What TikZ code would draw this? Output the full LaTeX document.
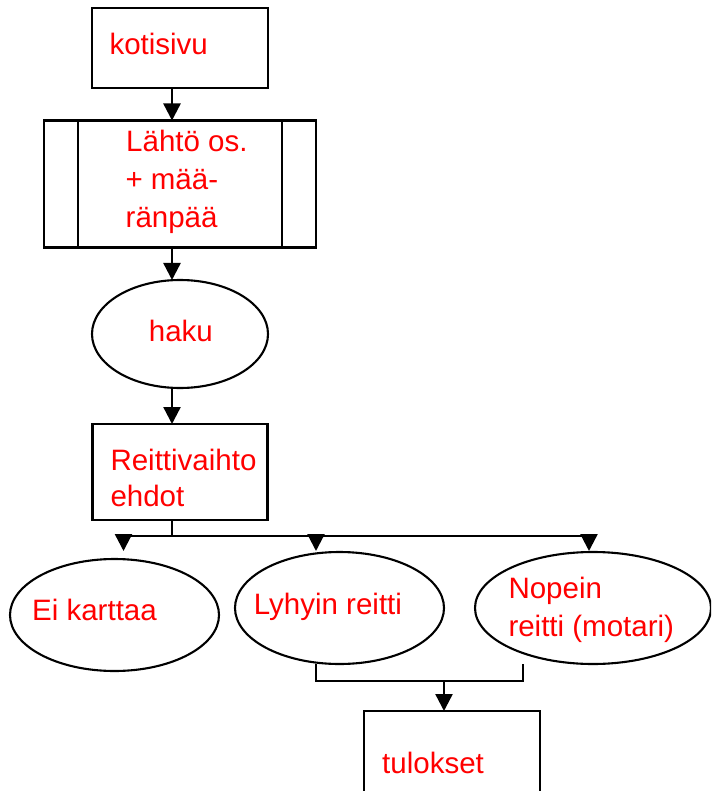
\documentclass[tikz,border=0pt]{standalone}
\usepackage{fontspec}
\setmainfont{Liberation Sans}
\usetikzlibrary{shapes.geometric,arrows.meta}
\begin{document}
\begin{tikzpicture}[x=1pt,y=-1pt,
  line width=2.4pt,
  box/.style={draw,rectangle,inner sep=0pt,outer sep=0pt},
  oval/.style={draw,ellipse,inner sep=0pt,outer sep=0pt,line width=2.1pt},
  lbl/.style={text=red,anchor=base west,inner sep=0pt,font=\fontsize{29.5}{38}\selectfont},
  arr/.style={-{Triangle[width=17pt,length=17pt]}},
  ]
\useasboundingbox (0,0) rectangle (711,791);
\clip (0,0) rectangle (711,791);
% shapes
\node[box,minimum width=176pt,minimum height=80pt] (kot) at (180,48) {};
\node[box,minimum width=272pt,minimum height=127pt] (lah) at (180,184) {};
\draw ([xshift=34pt]lah.north west) -- ([xshift=34pt]lah.south west);
\draw ([xshift=-34pt]lah.north east) -- ([xshift=-34pt]lah.south east);
\node[oval,minimum width=176pt,minimum height=108pt] (haku) at (180,334) {};
\node[box,minimum width=175pt,minimum height=96pt] (rei) at (180,472) {};
\node[oval,minimum width=209pt,minimum height=112pt] (ei) at (114.5,615) {};
\node[oval,minimum width=209pt,minimum height=112pt] (lyh) at (339.5,608) {};
\node[oval,minimum width=236pt,minimum height=112pt] (nop) at (593,608) {};
\node[box,minimum width=176pt,minimum height=100pt] (tul) at (452,761) {};
% labels
\node[lbl] (tkot) at (108.3,55) {kotisivu};
\node[lbl] (tlah1) at (125,151.7) {Lähtö os.};
\node[lbl] (tlah2) at (124.3,190) {+ mää-};
\node[lbl] (tlah3) at (124.5,228) {ränpää};
\node[lbl] (thaku) at (147.7,341.7) {haku};
\node[lbl] (trei1) at (109.3,470) {Reittivaihto};
\node[lbl] (trei2) at (109.3,506) {ehdot};
\node[lbl] (tei) at (31,620.7) {Ei karttaa};
\node[lbl] (tlyh) at (252.7,614) {Lyhyin reitti};
\node[lbl] (tnop1) at (507.3,598.3) {Nopein};
\node[lbl] (tnop2) at (507.3,636.7) {reitti (motari)};
\node[lbl] (ttul) at (381,773) {tulokset};
% connectors
\draw[arr] ([xshift=-8pt]kot.south) -- ([xshift=-8pt]lah.north);
\draw[arr] ([xshift=-8pt]lah.south) -- ([xshift=-8pt]haku.north);
\draw[arr] ([xshift=-8pt]haku.south) -- ([xshift=-8pt]rei.north);
\coordinate (t1) at (123.5,551);
\coordinate (t2) at (316,551);
\coordinate (t3) at (589,551);
\draw ([xshift=-8pt]rei.south) -- ++(0,16) coordinate (j);
\draw (t1 |- j) -- (t3 |- j);
\draw[arr] (t1 |- j) -- (t1);
\draw[arr] (t2 |- j) -- (t2);
\draw[arr] (t3 |- j) -- (t3);
\coordinate (b1) at (316,664);
\coordinate (b2) at (523,664);
\coordinate (m) at (444,681);
\draw (b1) -- (b1 |- m) -- (b2 |- m) -- (b2);
\draw[arr] (m) -- ([xshift=-8pt]tul.north);
\end{tikzpicture}
\end{document}
